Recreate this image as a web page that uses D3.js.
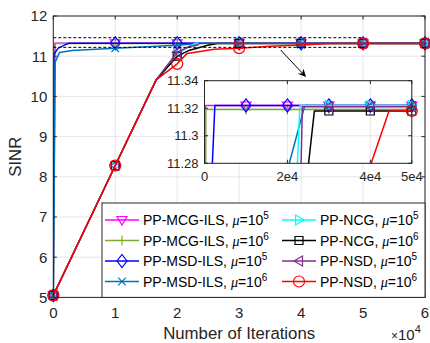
<!DOCTYPE html>
<html>
<head>
<meta charset="utf-8">
<script src="https://cdn.jsdelivr.net/npm/d3@7"></script>
<style>
  body { margin: 0; background: #fff; }
  svg { display: block; font-family: "Liberation Sans", Arial, sans-serif; }
</style>
</head>
<body>
<div id="chart"></div>
<script>
// ---- data (iterations, SINR) ----
const xTicks = [0, 1e4, 2e4, 3e4, 4e4, 5e4, 6e4];
const xTickLabels = ['0', '1', '2', '3', '4', '5', '6'];
const yTicks = [5, 6, 7, 8, 9, 10, 11, 12];
const insetXTicks = [0, 2e4, 4e4, 5e4];
const insetXTickLabels = ['0', '2e4', '4e4', '5e4'];
const insetYTicks = [11.28, 11.3, 11.32, 11.34];
const insetYTickLabels = ['11.28', '11.3', '11.32', '11.34'];

const seriesNames = ['PP-MCG-ILS', 'PP-MCG-ILS', 'PP-MSD-ILS', 'PP-MSD-ILS',
                     'PP-NCG', 'PP-NCG', 'PP-NSD', 'PP-NSD'];
const muExponents = [5, 6, 5, 6, 5, 6, 5, 6];

const mcgIls5 = [[0, 5.05], [200, 11.322], [1e4, 11.322], [2e4, 11.322], [3e4, 11.322], [4e4, 11.322], [5e4, 11.322], [6e4, 11.322]];
const mcgIls6 = [[0, 5.05], [300, 11.319], [1e4, 11.319], [2e4, 11.319], [3e4, 11.319], [4e4, 11.319], [5e4, 11.319], [6e4, 11.319]];
const msdIls5 = [[0, 5.05], [100, 11.05], [800, 11.2], [1900, 11.28], [2500, 11.322], [1e4, 11.322], [2e4, 11.322], [3e4, 11.322], [4e4, 11.322], [5e4, 11.322], [6e4, 11.322]];
const msdIls6 = [[0, 5.05], [300, 10.85], [1000, 11.09], [3000, 11.14], [1e4, 11.2], [2e4, 11.275], [24200, 11.322], [3e4, 11.322], [4e4, 11.322], [5e4, 11.322], [6e4, 11.322]];
const ncg5 = [[0, 5.05], [1e4, 8.28], [16600, 10.41], [2e4, 11.05], [22000, 11.25], [23000, 11.322], [3e4, 11.322], [4e4, 11.322], [5e4, 11.322], [6e4, 11.322]];
const ncg6 = [[0, 5.05], [1e4, 8.28], [16600, 10.41], [2e4, 11.0], [22000, 11.15], [25100, 11.28], [26500, 11.318], [3e4, 11.318], [4e4, 11.318], [5e4, 11.318], [6e4, 11.318]];
const nsd5 = [[0, 5.05], [1e4, 8.28], [16600, 10.41], [2e4, 11.1], [22000, 11.24], [23300, 11.28], [23600, 11.321], [3e4, 11.321], [4e4, 11.321], [5e4, 11.321], [6e4, 11.321]];
const nsd6 = [[0, 5.05], [1e4, 8.28], [16600, 10.41], [2e4, 10.81], [21600, 11.07], [26000, 11.17], [3e4, 11.2], [35000, 11.245], [40200, 11.28], [44500, 11.318], [5e4, 11.318], [6e4, 11.318]];

const seriesData = [mcgIls5, mcgIls6, msdIls5, msdIls6, ncg5, ncg6, nsd5, nsd6];

// dashed zoom window and arrow (data units)
const zoomWindowX = [0, 5e4];
const zoomWindowY = [11.22, 11.46];
const arrowFrom = [36700, 11.155];
const arrowTo = [40800, 10.48];

// ---- styles ----
const colors = ['#ff00ff', '#77ac30', '#0000ff', '#0072bd', '#00ffff', '#000000', '#7e2f8e', '#ff0000'];
const symbols = ['v', '+', 'd', 'x', '>', 's', '<', 'o'];

function symbolPath(t) {
  switch (t) {
    case 'v': return 'M-5,-3.5L5,-3.5L0,5Z';
    case '+': return 'M-5,0H5M0,-5V5';
    case 'd': return 'M0,-6.5L5,0L0,6.5L-5,0Z';
    case 'x': return 'M-3.8,-3.8L3.8,3.8M-3.8,3.8L3.8,-3.8';
    case '>': return 'M-3.5,-5L5,0L-3.5,5Z';
    case 's': return 'M-4,-4H4V4H-4Z';
    case '<': return 'M3.5,-5L-5,0L3.5,5Z';
    case 'o': return 'M5.5,0A5.5,5.5 0 1,1 -5.5,0A5.5,5.5 0 1,1 5.5,0Z';
  }
}

const width = 430, height = 343;
const axisColor = '#262626';
const gridColor = '#e0e0e0';

const svg = d3.select('#chart').append('svg')
  .attr('width', width)
  .attr('height', height);

const defs = svg.append('defs');

function drawPanel(g, x, y, xt, xtLabels, yt, ytLabels, clipId, fontSize, xLabelGap) {
  const [x0, x1] = x.range();
  const [y0, y1] = y.range(); // y0 bottom, y1 top

  g.append('rect')
    .attr('x', x0).attr('y', y1).attr('width', x1 - x0).attr('height', y0 - y1)
    .attr('fill', '#fff');

  // grid
  g.append('g').selectAll('line').data(xt).join('line')
    .attr('x1', (d) => x(d)).attr('x2', (d) => x(d))
    .attr('y1', y0).attr('y2', y1)
    .attr('stroke', gridColor).attr('stroke-width', 0.8);
  g.append('g').selectAll('line').data(yt).join('line')
    .attr('x1', x0).attr('x2', x1)
    .attr('y1', (d) => y(d)).attr('y2', (d) => y(d))
    .attr('stroke', gridColor).attr('stroke-width', 0.8);

  defs.append('clipPath').attr('id', clipId)
    .append('rect')
    .attr('x', x0).attr('y', y1).attr('width', x1 - x0).attr('height', y0 - y1);

  const line = d3.line().x((d) => x(d[0])).y((d) => y(d[1]));
  const [dx0, dx1] = x.domain();
  const [dy0, dy1] = y.domain();

  seriesData.forEach((data, i) => {
    g.append('path')
      .attr('clip-path', `url(#${clipId})`)
      .attr('d', line(data))
      .attr('fill', 'none')
      .attr('stroke', colors[i])
      .attr('stroke-width', 1.5)
      .attr('stroke-linejoin', 'round');

    const pts = data.filter((d) => d[0] % 1e4 === 0
      && d[0] >= dx0 && d[0] <= dx1 && d[1] >= dy0 && d[1] <= dy1);
    g.append('g').selectAll('path').data(pts).join('path')
      .attr('transform', (d) => `translate(${x(d[0])},${y(d[1])})`)
      .attr('d', symbolPath(symbols[i]))
      .attr('fill', 'none')
      .attr('stroke', colors[i])
      .attr('stroke-width', 1.2);
  });

  // box + inward ticks
  g.append('rect')
    .attr('x', x0).attr('y', y1).attr('width', x1 - x0).attr('height', y0 - y1)
    .attr('fill', 'none').attr('stroke', axisColor).attr('stroke-width', 1);

  const tl = 3.5;
  g.append('g').selectAll('path').data(xt).join('path')
    .attr('d', (d) => `M${x(d)},${y0}v${-tl}M${x(d)},${y1}v${tl}`)
    .attr('stroke', axisColor);
  g.append('g').selectAll('path').data(yt).join('path')
    .attr('d', (d) => `M${x0},${y(d)}h${tl}M${x1},${y(d)}h${-tl}`)
    .attr('stroke', axisColor);

  g.append('g')
    .attr('font-size', fontSize).attr('fill', axisColor).attr('text-anchor', 'middle')
    .selectAll('text').data(xt).join('text')
    .attr('x', (d) => x(d)).attr('y', y0 + xLabelGap)
    .text((d, i) => xtLabels[i]);
  g.append('g')
    .attr('font-size', fontSize).attr('fill', axisColor).attr('text-anchor', 'end')
    .selectAll('text').data(yt).join('text')
    .attr('x', x0 - 6).attr('y', (d) => y(d)).attr('dy', '0.36em')
    .text((d, i) => ytLabels[i]);
}

// ---- main axes ----
const x = d3.scaleLinear().domain([0, 6e4]).range([53.3, 425]);
const y = d3.scaleLinear().domain([5, 12]).range([297.4, 16]);

const main = svg.append('g');
drawPanel(main, x, y, xTicks, xTickLabels, yTicks, yTicks.map(String), 'clipMain', 15, 21);

// dashed zoom window
main.append('g').selectAll('line').data(zoomWindowY).join('line')
  .attr('x1', x(zoomWindowX[0])).attr('x2', x(zoomWindowX[1]))
  .attr('y1', (d) => y(d)).attr('y2', (d) => y(d))
  .attr('stroke', '#000').attr('stroke-width', 1).attr('stroke-dasharray', '3,2');

// arrow
{
  const ax0 = x(arrowFrom[0]), ay0 = y(arrowFrom[1]);
  const ax1 = x(arrowTo[0]), ay1 = y(arrowTo[1]);
  const ang = Math.atan2(ay1 - ay0, ax1 - ax0);
  const hl = 9, hw = 0.45;
  const p1 = [ax1 - hl * Math.cos(ang - hw), ay1 - hl * Math.sin(ang - hw)];
  const p2 = [ax1 - hl * Math.cos(ang + hw), ay1 - hl * Math.sin(ang + hw)];
  const pm = [ax1 - hl * 0.6 * Math.cos(ang), ay1 - hl * 0.6 * Math.sin(ang)];
  main.append('line')
    .attr('x1', ax0).attr('y1', ay0).attr('x2', pm[0]).attr('y2', pm[1])
    .attr('stroke', '#000').attr('stroke-width', 1);
  main.append('path')
    .attr('d', `M${ax1},${ay1}L${p1[0]},${p1[1]}L${pm[0]},${pm[1]}L${p2[0]},${p2[1]}Z`)
    .attr('fill', '#000');
}

// axis labels
svg.append('text')
  .attr('x', (x.range()[0] + x.range()[1]) / 2).attr('y', 339)
  .attr('text-anchor', 'middle').attr('font-size', 16.8).attr('fill', axisColor)
  .text('Number of Iterations');
svg.append('text')
  .attr('transform', `translate(21,${(y.range()[0] + y.range()[1]) / 2}) rotate(-90)`)
  .attr('text-anchor', 'middle').attr('font-size', 16.8).attr('fill', axisColor)
  .text('SINR');
const expo = svg.append('text')
  .attr('x', 391).attr('y', 340).attr('font-size', 15).attr('fill', axisColor);
expo.append('tspan').attr('font-size', 12).text('\u00d7');
expo.append('tspan').text('10');
expo.append('tspan').attr('font-size', 11).attr('dy', -7).text('4');

// ---- inset ----
const xi = d3.scaleLinear().domain([0, 5e4]).range([204.5, 411.8]);
const yi = d3.scaleLinear().domain([11.28, 11.34]).range([163.3, 80.7]);
const inset = svg.append('g');
drawPanel(inset, xi, yi, insetXTicks, insetXTickLabels, insetYTicks, insetYTickLabels, 'clipInset', 13, 18);

// ---- legend ----
const legendBox = { x: 102, y: 203, w: 323, h: 94.4 };
const legend = svg.append('g');
legend.append('rect')
  .attr('x', legendBox.x).attr('y', legendBox.y)
  .attr('width', legendBox.w).attr('height', legendBox.h)
  .attr('fill', '#fff').attr('stroke', axisColor).attr('stroke-width', 1);

const colX = [105, 282];
const rowY = [220, 240.5, 261, 281.5];
seriesNames.forEach((name, i) => {
  const c = Math.floor(i / 4), r = i % 4;
  const lx = colX[c], ly = rowY[r];
  const item = legend.append('g');
  item.append('line')
    .attr('x1', lx).attr('x2', lx + 34).attr('y1', ly).attr('y2', ly)
    .attr('stroke', colors[i]).attr('stroke-width', 1.5);
  item.append('path')
    .attr('transform', `translate(${lx + 17},${ly})`)
    .attr('d', symbolPath(symbols[i]))
    .attr('fill', 'none').attr('stroke', colors[i]).attr('stroke-width', 1.2);
  const t = item.append('text')
    .attr('x', lx + 38).attr('y', ly + 5)
    .attr('font-size', 14).attr('fill', '#000');
  t.append('tspan').text(`${name}, `);
  t.append('tspan').attr('font-family', '"Liberation Serif", serif').attr('font-style', 'italic').text('\u03bc');
  t.append('tspan').text('=10');
  t.append('tspan').attr('font-size', 10).attr('dy', -6).text(String(muExponents[i]));
});
</script>
</body>
</html>
